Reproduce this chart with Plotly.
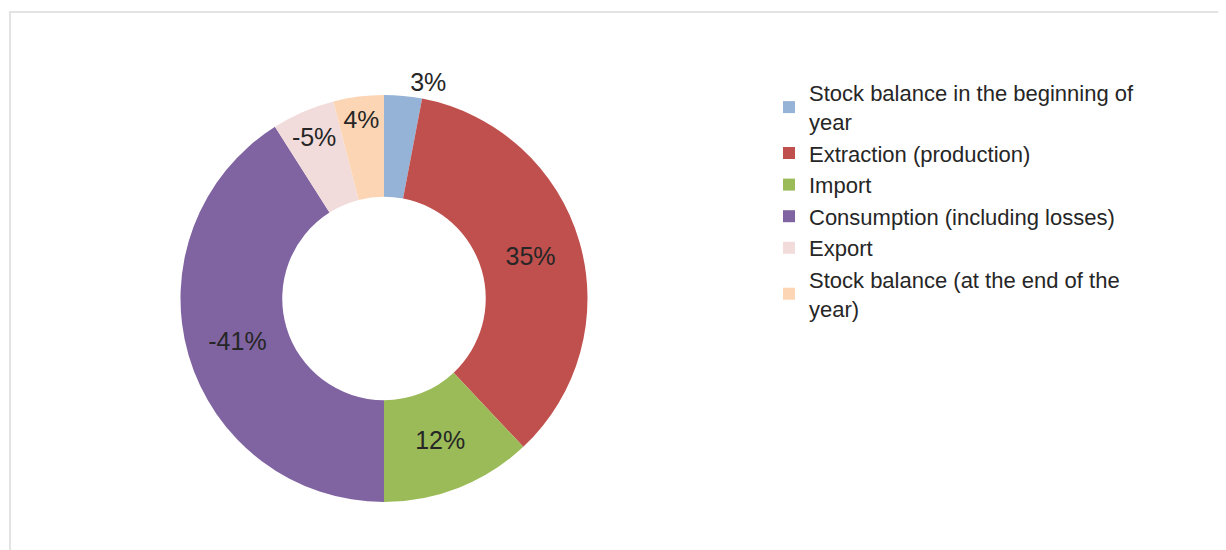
import plotly.graph_objects as go

categories = [
    "Stock balance in the beginning of<br>year",
    "Extraction (production)",
    "Import",
    "Consumption (including losses)",
    "Export",
    "Stock balance (at the end of the<br>year)",
]
shares = [3, 35, 12, 41, 5, 4]
signs = [1, 1, 1, -1, -1, 1]
slice_labels = [f"{s * v}%" for s, v in zip(signs, shares)]
colors = ["#95B3D7", "#C0504D", "#9BBB59", "#8064A2", "#F2DCDB", "#FCD5B5"]

# page body has an 8px margin, so the figure is a bit smaller than the window
W, H = 1218, 542
FONT = "Liberation Sans, Arial"

fig = go.Figure()
fig.add_trace(go.Pie(
    labels=categories,
    values=shares,
    text=slice_labels,
    textinfo="text",
    textposition=["outside", "inside", "inside", "inside", "inside", "inside"],
    insidetextorientation="horizontal",
    hole=0.5,
    sort=False,
    direction="clockwise",
    rotation=0,
    marker=dict(colors=colors, line=dict(width=0)),
    textfont=dict(family=FONT, size=25, color="#262626"),
    outsidetextfont=dict(family=FONT, size=25, color="#262626"),
    domain=dict(x=[172 / W, 580 / W], y=[48 / H, 455 / H]),
))

# light frame of the chart area
fig.add_shape(type="rect", xref="paper", yref="paper",
              x0=2 / W, x1=1.05, y0=-0.05, y1=1 - 4 / H,
              line=dict(color="#E3E3E3", width=2))

fig.update_layout(
    width=W, height=H,
    margin=dict(l=0, r=0, t=0, b=0),
    paper_bgcolor="white",
    plot_bgcolor="white",
    showlegend=True,
    legend=dict(
        x=761 / W, y=1 - 64 / H, xanchor="left", yanchor="top",
        font=dict(family=FONT, size=22, color="#262626"),
        tracegroupgap=0,
        bgcolor="rgba(0,0,0,0)",
    ),
)

fig.write_html("out.html")
